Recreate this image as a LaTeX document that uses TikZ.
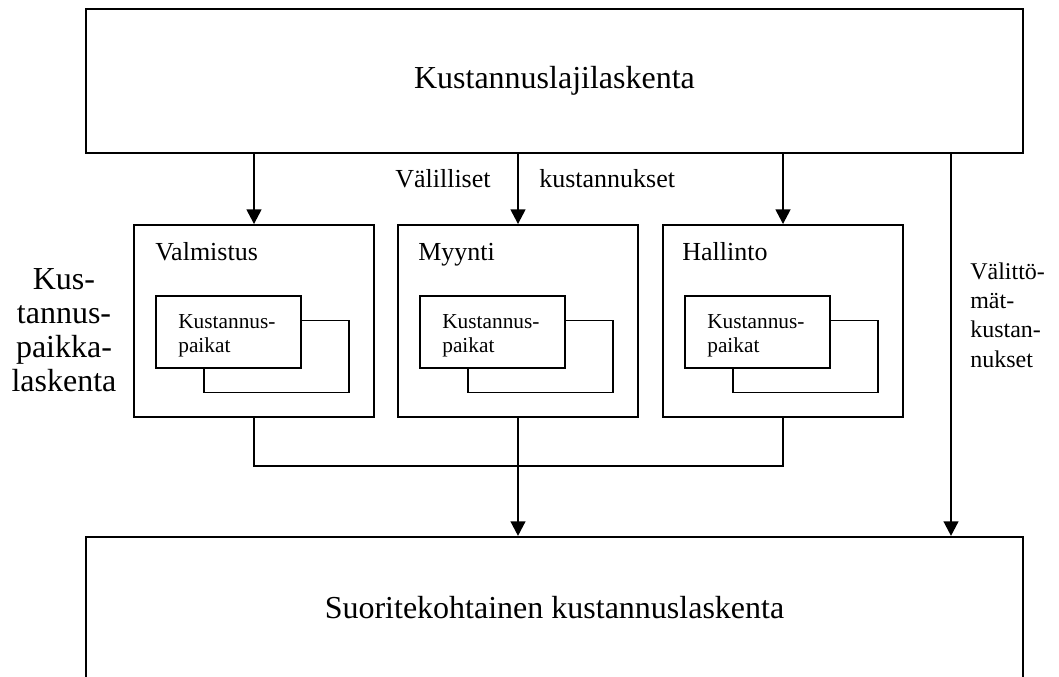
\documentclass[tikz,border=0pt]{standalone}
\usepackage{fontspec}
\setmainfont{Liberation Serif}
\usetikzlibrary{arrows.meta,calc}
\begin{document}
\begin{tikzpicture}[x=0.75pt,y=-0.75pt,
  bigbox/.style={draw, line width=1.6pt, inner sep=0, minimum width=702.75pt, font=\fontsize{24pt}{28pt}\selectfont},
  unitbox/.style={draw, line width=1.4pt, minimum width=180pt, minimum height=144pt, inner sep=0},
  cpbox/.style={draw, line width=1.3pt, minimum width=108.75pt, minimum height=54pt, inner sep=0, fill=white},
  arr/.style={line width=1.8pt, -{Triangle[length=11pt,width=11pt]}},
  link/.style={line width=1.4pt},
  medtxt/.style={font=\fontsize{19.5pt}{23pt}\selectfont, inner sep=0, anchor=base west},
  smalltxt/.style={font=\fontsize{16pt}{18pt}\selectfont, inner sep=0, align=left, anchor=base west},
]
\useasboundingbox (0,0) rectangle (1059,676);

% main boxes
\node[bigbox, minimum height=108pt] (top) at (554.5,81) {Kustannuslajilaskenta};
\node[bigbox, minimum height=106.5pt] (bot) at (554.5,608) {Suoritekohtainen kustannuslaskenta};

% cost centre units
\node[unitbox] (val) at (254,321) {};
\node[unitbox] (myy) at (518,321) {};
\node[unitbox] (hal) at (783,321) {};

\node[medtxt] (vallbl) at ($(val.north west)+(22,36)$) {Valmistus};
\node[medtxt] (myylbl) at ($(myy.north west)+(21,36)$) {Myynti};
\node[medtxt] (hallbl) at ($(hal.north west)+(20,36)$) {Hallinto};

\node[cpbox] (valb) at ($(val.north west)+(143.5,132.5)$) {};
\node[cpbox] (valf) at ($(val.north west)+(95.5,108)$) {};
\node[smalltxt] (valt) at ($(val.north west)+(45,128)$) {Kustannus-\\paikat};

\node[cpbox] (myyb) at ($(myy.north west)+(143.5,132.5)$) {};
\node[cpbox] (myyf) at ($(myy.north west)+(95.5,108)$) {};
\node[smalltxt] (myyt) at ($(myy.north west)+(45,128)$) {Kustannus-\\paikat};

\node[cpbox] (halb) at ($(hal.north west)+(143.5,132.5)$) {};
\node[cpbox] (half) at ($(hal.north west)+(95.5,108)$) {};
\node[smalltxt] (halt) at ($(hal.north west)+(45,128)$) {Kustannus-\\paikat};

% labels
\node[medtxt] (vl1) at (395,187) {Välilliset};
\node[medtxt] (vl2) at (539,187) {kustannukset};
\node[font=\fontsize{18pt}{22pt}\selectfont, inner sep=0, align=left, anchor=base west] (dir) at (970,367) {Välittö-\\mät-\\kustan-\\nukset};
\node[font=\fontsize{24pt}{25.5pt}\selectfont, inner sep=0, align=center, anchor=base] (cpl) at (64,391) {Kus-\\tannus-\\paikka-\\laskenta};

% connectors
\draw[arr] (top.south -| val.north) -- (val.north);
\draw[arr] (top.south -| myy.north) -- (myy.north);
\draw[arr] (top.south -| hal.north) -- (hal.north);
\coordinate (rt) at (951,0);
\draw[arr] (rt |- top.south) -- (rt |- bot.north);
\draw[link] (val.south) -- ++(0,48) -| (hal.south);
\draw[arr] (myy.south) -- (myy.south |- bot.north);
\end{tikzpicture}
\end{document}
